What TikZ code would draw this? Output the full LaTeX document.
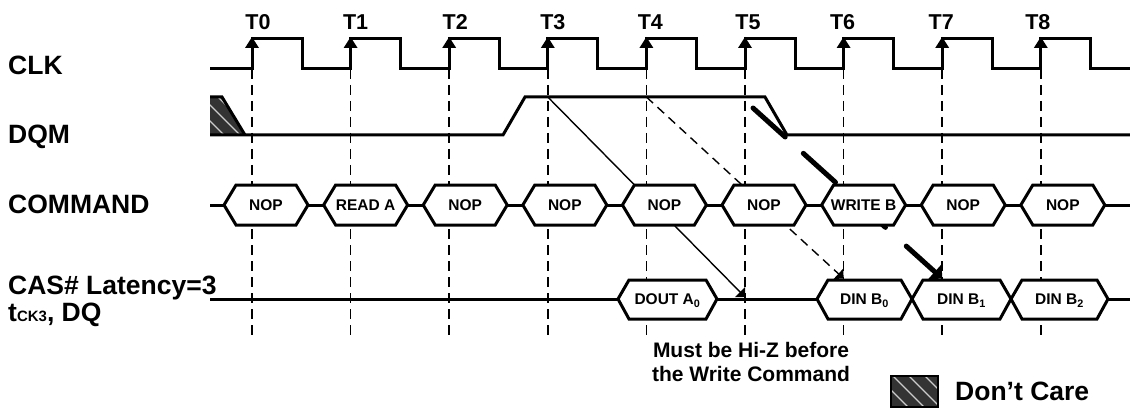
\documentclass[tikz,border=0pt]{standalone}
\usepackage{fontspec}
\setmainfont{Liberation Sans}
\usetikzlibrary{arrows.meta,calc}

\tikzset{
  sigline/.style={line width=3pt},
  tickline/.style={line width=1.7pt, dash pattern=on 10pt off 6pt},
  rowlbl/.style={anchor=base west, inner sep=0pt, font=\fontsize{26.5}{28}\selectfont\bfseries},
  clklbl/.style={anchor=base, inner sep=0pt, font=\fontsize{21.5}{24}\selectfont\bfseries},
  boxlbl/.style={anchor=base, inner sep=0pt, font=\fontsize{15.5}{17}\selectfont\bfseries},
  notelbl/.style={anchor=base, inner sep=0pt, font=\fontsize{21}{24}\selectfont\bfseries},
  thinarrow/.style={line width=1.4pt, -{Triangle[length=7pt,width=14pt]}},
  hzline/.style={line width=5pt, line cap=round},
  dcfill/.style={fill=black!80},
  dcstripe/.style={draw=black!20, line width=1.2pt},
}

\begin{document}
\begin{tikzpicture}[x=1pt,y=-1pt]
\useasboundingbox (0,0) rectangle (1130,409);

% levels and clock edges
\coordinate (clkhi) at (0,39);
\coordinate (clklo) at (0,69);
\coordinate (dqmhi) at (0,97);
\coordinate (dqtop) at (0,297);
\coordinate (dintop) at (0,278.5);
\foreach \i in {0,...,8}
  \coordinate (t\i) at ({252+98.6*\i},0);

% dashed edge lines
\foreach \i in {0,...,8}
  \draw[tickline] (t\i |- clklo) -- (t\i |- 0,337);

% clock labels
\foreach \i/\dx in {0/6,1/5,2/6,3/5,4/4,5/3,6/-1,7/-1,8/-3}
  \node[clklbl] (lt\i) at ($(t\i)+(\dx,30)$) {T\i};

% row labels
\node[rowlbl] (lclk) at (8,75) {CLK};
\node[rowlbl] (ldqm) at (8,143) {DQM};
\node[rowlbl] (lcmd) at (8,213) {COMMAND};
\node[rowlbl] (lcas) at (8,294) {CAS\# Latency=3};
\node[rowlbl] (ltck) at (8,321) {t{\fontsize{15}{15}\selectfont CK3}, DQ};

% CLK
\draw[sigline] (210,69) \foreach \i in {0,...,8} { -- (t\i |- clklo) -- (t\i |- clkhi) -- ++(50,0) -- ++(0,30) } -- (1130,69);
\foreach \i in {0,...,8}
  \fill ($(t\i |- clkhi)+(0,-2)$) -- ++(-7,11) -- ++(14,0) -- cycle;

% DQM
\begin{scope}
\clip (210,97) -- (222,97) -- (245,135) -- (210,135) -- cycle;
\fill[dcfill] (200,90) rectangle (250,140);
\foreach \s in {-40,-24,...,30}
  \draw[dcstripe] (210+\s,97) -- ++(40,40);
\end{scope}
\draw[sigline] (210,97) -- (222,97) -- (245,135);
\draw[sigline] (210,135) -- (503,135) -- (525,97) -- (765,97) -- (787,135) -- (1130,135);

% arrows
\draw[thinarrow] (t3 |- dqmhi) -- (t5 |- dqtop);
\draw[thinarrow, dash pattern=on 9pt off 6pt] (t4 |- dqmhi) -- (t6 |- dintop);
\coordinate (hzA) at (753,108);
\coordinate (hzB) at (t7 |- dintop);
\draw[hzline] (hzA) -- ($(hzA)!0.17!(hzB)$);
\draw[hzline] ($(hzA)!0.266!(hzB)$) -- ($(hzA)!0.436!(hzB)$);
\draw[hzline] ($(hzA)!0.68!(hzB)$) -- ($(hzA)!0.70!(hzB)$);
\draw[hzline, -{Triangle[length=10pt,width=20pt]}] ($(hzA)!0.81!(hzB)$) -- (hzB);

% COMMAND
\draw[sigline] (210,205) -- (1130,205);
\foreach \i/\txt in {0/NOP,1/READ A,2/NOP,3/NOP,4/NOP,5/NOP,6/WRITE B,7/NOP,8/NOP} {
  \draw[sigline, fill=white] ({266+99.6*\i-42},205) -- ++(12,-20) -- ++(60,0) -- ++(12,20) -- ++(-12,20) -- ++(-60,0) -- cycle;
  \node[boxlbl] (cmd\i) at ({266+99.6*\i},210.5) {\txt};
}

% DQ
\draw[sigline] (210,299) -- (1130,299);
\foreach \l/\r/\txt [count=\k] in {618/717/DOUT A\textsubscript{0},817/912/DIN B\textsubscript{0},912/1011/DIN B\textsubscript{1},1011/1108/DIN B\textsubscript{2}} {
  \draw[sigline, fill=white] (\l,299) -- (\l+11,280) -- (\r-11,280) -- (\r,299) -- (\r-11,319) -- (\l+11,319) -- cycle;
  \node[boxlbl] (dq\k) at ({(\l+\r)/2},304.5) {\txt};
}

% note
\node[notelbl] (hiz1) at (751,357) {Must be Hi-Z before};
\node[notelbl] (hiz2) at (751,381) {the Write Command};

% legend
\begin{scope}
\clip (891,376) rectangle (938,407);
\fill[dcfill] (891,376) rectangle (938,407);
\foreach \s in {-30,-14,...,50}
  \draw[dcstripe] (891+\s,376) -- ++(40,40);
\end{scope}
\draw[line width=2.5pt] (891,376) rectangle (938,407);
\node[rowlbl] (ldc) at (955,400) {Don’t Care};
\end{tikzpicture}
\end{document}
